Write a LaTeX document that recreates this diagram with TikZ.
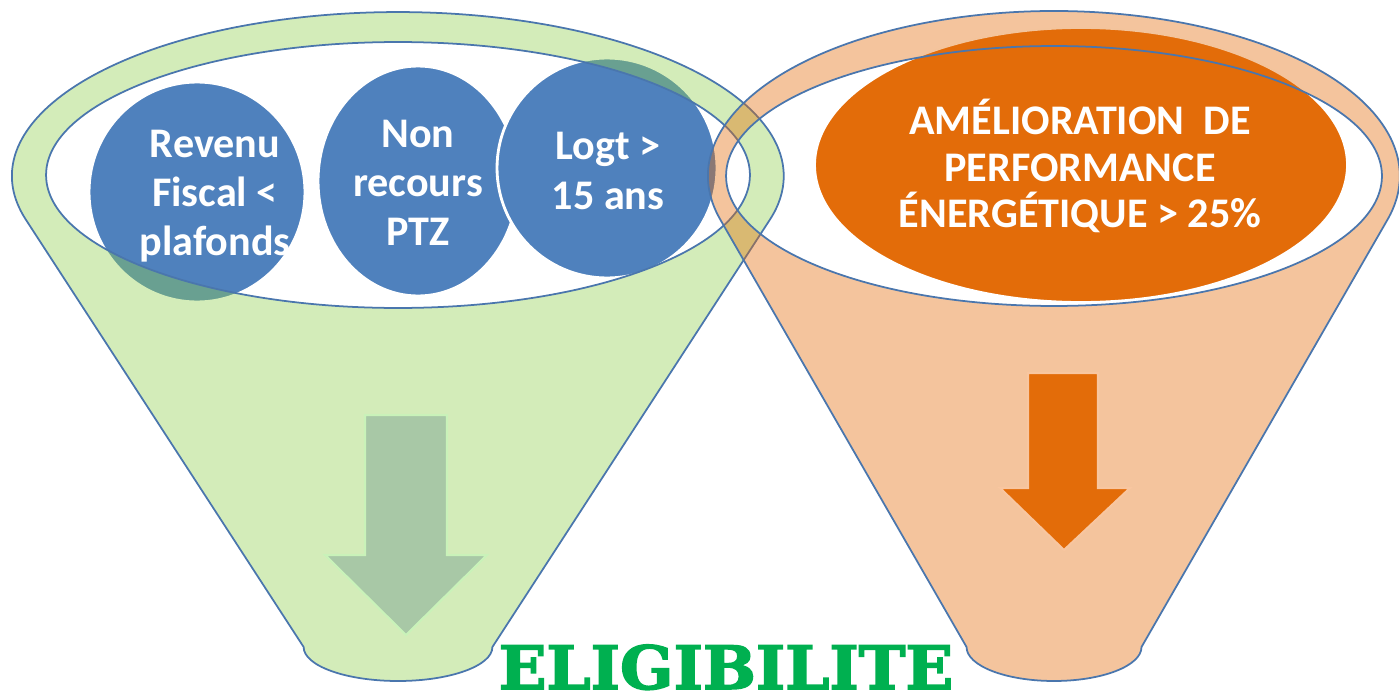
\documentclass[tikz,border=0pt]{standalone}
\usepackage{fontspec}
\setmainfont{Carlito}
\newfontfamily\eligfont[FakeBold=2.5]{DejaVu Serif}
\usetikzlibrary{shapes.geometric}
\definecolor{ringline}{HTML}{4A76AD}
\definecolor{greenF}{HTML}{92D050}
\definecolor{orangeF}{HTML}{E36C09}
\definecolor{bluec}{HTML}{4F81BD}
\definecolor{garrow}{HTML}{A8C8A6}
\definecolor{garrowline}{HTML}{C9F2B9}
\definecolor{oarrowline}{HTML}{F8C6A0}
\definecolor{eligreen}{HTML}{00B050}
\begin{document}
\begin{tikzpicture}[x=0.02cm,y=-0.02cm,
  bubble/.style={ellipse, fill=bluec, draw=white, line width=1.6pt, inner sep=0pt},
  obubble/.style={ellipse, fill=orangeF, draw=white, line width=1pt, inner sep=0pt},
  lbl/.style={text=white, font=\bfseries\fontsize{24}{28}\selectfont, align=center, inner sep=0pt},
  funnel/.style={draw=ringline, line width=1pt, fill opacity=0.4, even odd rule},
  arrowshape/.style={line width=1.2pt, line join=miter}]
\useasboundingbox (0,0) rectangle (1399,693);

% blue bubbles (under the green funnel rim)
\node[bubble, minimum width=4.32cm, minimum height=4.4cm] (rev) at (197,192) {};
\node[bubble, minimum width=4.0cm, minimum height=4.6cm] (non) at (418,181) {};
\node[bubble, minimum width=4.4cm, minimum height=4.4cm] (logt) at (607,168) {};
% orange bubble
\node[obubble, minimum width=10.64cm, minimum height=5.48cm] (amel) at (1081,165) {};

% green funnel
\path[funnel, fill=greenF]
  (25.9,219.7) arc[start angle=195.44, end angle=-15.44, x radius=7.72cm, y radius=3.28cm]
  -- (492.4,647) arc[start angle=0, end angle=-180, x radius=1.888cm, y radius=0.68cm]
  -- cycle
  (398,175) ellipse[x radius=7.04cm, y radius=2.66cm];

% orange funnel
\path[funnel, fill=orangeF]
  (720.3,219.6) arc[start angle=195.33, end angle=-15.33, x radius=6.92cm, y radius=3.3cm]
  -- (1141.5,647) arc[start angle=0, end angle=-180, x radius=1.75cm, y radius=0.68cm]
  -- cycle
  (1054,176) ellipse[x radius=6.56cm, y radius=2.6cm];

% arrows
\path[arrowshape, fill=garrow, draw=garrowline]
  (365,415) -- (447,415) -- (447,555) -- (487,555) -- (406,635) -- (325,555) -- (365,555) -- cycle;
\path[arrowshape, fill=orangeF, draw=oarrowline]
  (1028,373) -- (1098,373) -- (1098,488) -- (1130,488) -- (1064,550) -- (1000,488) -- (1028,488) -- cycle;

% labels
\node[lbl] (trev) at (215,196) {Revenu\\Fiscal <\\plafonds};
\node[lbl] (tnon) at (418,183) {Non\\recours\\PTZ};
\node[lbl] (tlogt) at (608,171) {Logt >\\15 ans};
\node[lbl, font=\bfseries\fontsize{24}{26.5}\selectfont] (tamel) at (1080,166) {AMÉLIORATION~~DE\\PERFORMANCE\\ÉNERGÉTIQUE > 25\%};

\node[anchor=base, text=eligreen, font=\eligfont\bfseries\fontsize{34}{36}\selectfont, inner sep=0pt, xscale=1.05] (elig) at (726,689) {ELIGIBILITE};
\end{tikzpicture}
\end{document}
